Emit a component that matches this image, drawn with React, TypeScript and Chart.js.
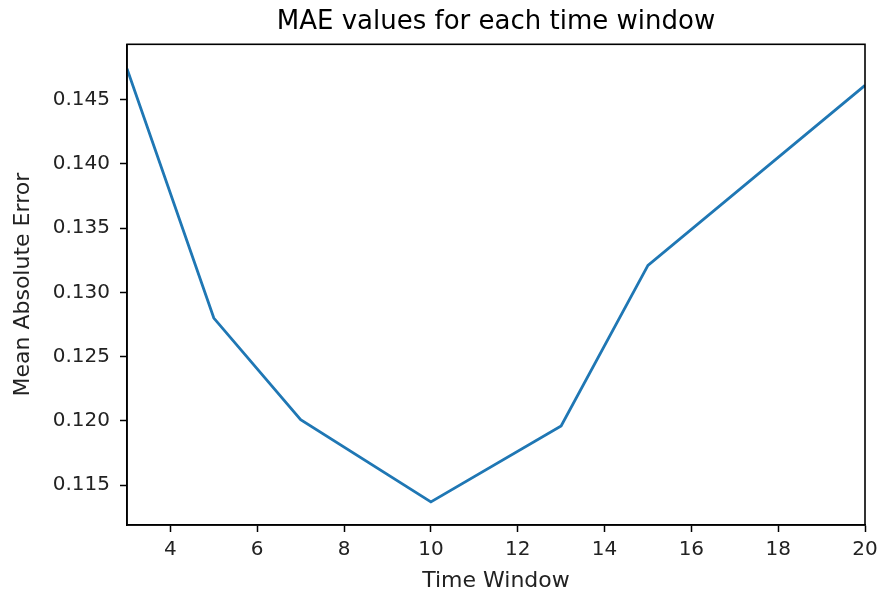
import React, { useEffect, useRef } from "react";
import { Chart, registerables } from "chart.js";

Chart.register(...registerables);

const timeWindows = [3, 5, 7, 10, 13, 15, 20];
const maeValues = [0.1474, 0.128, 0.1201, 0.1137, 0.1196, 0.1321, 0.1461];
const xTicks = [4, 6, 8, 10, 12, 14, 16, 18, 20];
const yTicks = [0.115, 0.12, 0.125, 0.13, 0.135, 0.14, 0.145];

const FONT = "'DejaVu Sans', sans-serif";
const TEXT = "#222";

const boxPlugin = {
  id: "boxPlugin",
  afterDraw(chart: any) {
    const { ctx, chartArea } = chart;
    ctx.save();
    ctx.strokeStyle = "#000";
    ctx.lineWidth = 1.6;
    ctx.strokeRect(chartArea.left, chartArea.top, chartArea.right - chartArea.left, chartArea.bottom - chartArea.top);
    ctx.restore();
  },
};

export default function App() {
  const ref = useRef<HTMLCanvasElement>(null);

  useEffect(() => {
    if (!ref.current) return;
    const chart = new Chart(ref.current, {
      type: "line",
      data: {
        datasets: [
          {
            data: timeWindows.map((x, i) => ({ x, y: maeValues[i] })),
            borderColor: "#1f77b4",
            backgroundColor: "#1f77b4",
            borderWidth: 2.8,
            pointRadius: 0,
            tension: 0,
            fill: false,
          },
        ],
      },
      options: {
        responsive: false,
        animation: false,
        layout: { padding: { top: 0, right: 16, left: 0, bottom: 0 } },
        plugins: {
          legend: { display: false },
          tooltip: { enabled: false },
          title: {
            display: true,
            text: "MAE values for each time window",
            fullSize: false,
            color: "#000",
            font: { family: FONT, size: 26, weight: "normal" },
            padding: { top: 6.4, bottom: 6.7 },
          },
        },
        scales: {
          x: {
            type: "linear",
            min: 3,
            max: 20,
            afterBuildTicks: (scale: any) => {
              scale.ticks = xTicks.map((v) => ({ value: v }));
            },
            afterFit: (scale: any) => {
              scale.height = 74;
              scale.paddingLeft = 0;
              scale.paddingRight = 0;
            },
            ticks: {
              color: TEXT,
              font: { family: FONT, size: 20 },
              padding: 6,
              maxRotation: 0,
              autoSkip: false,
              callback: (v: any) => String(v),
            },
            grid: {
              display: true,
              drawOnChartArea: false,
              drawTicks: true,
              tickLength: 7,
              tickColor: "#000",
              tickWidth: 1.5,
            },
            border: { display: true, color: "#000", width: 1.6 },
            title: {
              display: true,
              text: "Time Window",
              color: TEXT,
              font: { family: FONT, size: 22 },
              padding: { top: 0, bottom: 4.8 },
            },
          },
          y: {
            type: "linear",
            min: 0.1119,
            max: 0.1493,
            afterBuildTicks: (scale: any) => {
              scale.ticks = yTicks.map((v) => ({ value: v }));
            },
            afterFit: (scale: any) => {
              scale.width = 127;
            },
            ticks: {
              color: TEXT,
              font: { family: FONT, size: 20 },
              padding: 10,
              autoSkip: false,
              callback: (v: any) => Number(v).toFixed(3),
            },
            grid: {
              display: true,
              drawOnChartArea: false,
              drawTicks: true,
              tickLength: 7,
              tickColor: "#000",
              tickWidth: 1.5,
            },
            border: { display: true, color: "#000", width: 1.6 },
            title: {
              display: true,
              text: "Mean Absolute Error",
              color: TEXT,
              font: { family: FONT, size: 22 },
              padding: { top: 10, bottom: 0 },
            },
          },
        },
      },
      plugins: [boxPlugin],
    } as any);
    return () => chart.destroy();
  }, []);

  return (
    <div style={{ position: "absolute", left: 0, top: 0, width: 881, height: 599, background: "#fff" }}>
      <canvas ref={ref} width={881} height={599} />
    </div>
  );
}
